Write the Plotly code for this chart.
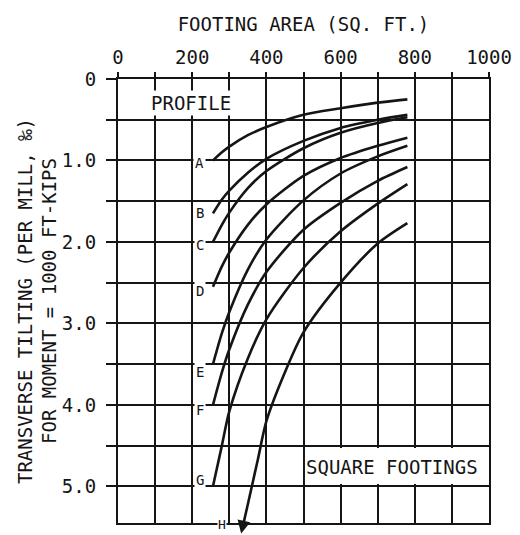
import plotly.graph_objects as go

# ---- data ----
profiles = ["A", "B", "C", "D", "E", "F", "G", "H"]

area_common = [256, 280, 300, 350, 400, 500, 600, 700, 780]
tilt_A = [1.00, 0.90, 0.83, 0.69, 0.59, 0.44, 0.36, 0.29, 0.25]
tilt_B = [1.65, 1.48, 1.37, 1.15, 0.98, 0.76, 0.60, 0.50, 0.44]
tilt_C = [2.00, 1.79, 1.64, 1.34, 1.13, 0.85, 0.66, 0.54, 0.47]
tilt_D = [2.55, 2.30, 2.13, 1.79, 1.54, 1.19, 0.97, 0.82, 0.72]
tilt_E = [3.50, 3.12, 2.86, 2.34, 1.97, 1.49, 1.16, 0.95, 0.82]
tilt_F = [4.00, 3.60, 3.32, 2.77, 2.37, 1.85, 1.52, 1.25, 1.08]
tilt_G = [5.00, 4.50, 4.08, 3.43, 2.95, 2.32, 1.87, 1.53, 1.29]
area_H = [332, 350, 377, 400, 450, 500, 600, 700, 780]
tilt_H = [5.58, 5.22, 4.67, 4.20, 3.60, 3.11, 2.50, 2.02, 1.77]

# label anchor points (area, tilt) for each profile letter
label_area = [221, 221, 221, 221, 221, 221, 221, 281]
label_tilt = [1.03, 1.64, 2.04, 2.60, 3.60, 4.06, 4.92, 5.47]

x_ticks = [0, 100, 200, 300, 400, 500, 600, 700, 800, 900, 1000]
x_ticktext = ["0", "", "200", "", "400", "", "600", "", "800", "", "1000"]
y_ticks = [0, 0.5, 1.0, 1.5, 2.0, 2.5, 3.0, 3.5, 4.0, 4.5, 5.0]
y_ticktext = ["0", "", "1.0", "", "2.0", "", "3.0", "", "4.0", "", "5.0"]

Y_MAX = 5.45  # bottom of the (reversed) tilt axis

series = {
    "A": (area_common, tilt_A),
    "B": (area_common, tilt_B),
    "C": (area_common, tilt_C),
    "D": (area_common, tilt_D),
    "E": (area_common, tilt_E),
    "F": (area_common, tilt_F),
    "G": (area_common, tilt_G),
    "H": (area_H, tilt_H),
}

INK = "#151515"
FONT = "DejaVu Sans Mono"


def to_paper(tilt):
    # reversed axis: tilt 0 at top (paper 1), Y_MAX at bottom (paper 0)
    return 1 - tilt / Y_MAX


fig = go.Figure()
for name in profiles:
    xs, ys = series[name]
    fig.add_trace(go.Scatter(
        x=xs, y=ys, mode="lines", name=name,
        line=dict(color=INK, width=2.6, shape="spline", smoothing=0.8),
        showlegend=False, hoverinfo="skip",
    ))

annotations = []
for name, lx, ly in zip(profiles[:-1], label_area[:-1], label_tilt[:-1]):
    annotations.append(dict(
        x=lx, y=ly, xref="x", yref="y", text=name, showarrow=False,
        font=dict(family=FONT, size=14, color=INK),
        bgcolor="white", borderpad=1,
    ))
# letter H sits on the bottom frame line; curve H ends in an arrow head there
annotations.append(dict(
    x=label_area[-1], y=to_paper(label_tilt[-1]), xref="x", yref="paper",
    yanchor="middle", xanchor="center",
    text=profiles[-1], showarrow=False, bgcolor="white", borderpad=0,
    font=dict(family=FONT, size=13, color=INK),
))
annotations.append(dict(
    x=area_H[0], y=to_paper(tilt_H[0]), xref="x", yref="paper",
    text="", showarrow=True, arrowhead=2, arrowsize=1, arrowwidth=2.6,
    arrowcolor=INK, ax=3, ay=-14,
))
annotations.append(dict(
    x=196, y=0.29, xref="x", yref="y", text="PROFILE", showarrow=False,
    font=dict(family=FONT, size=19, color=INK), bgcolor="white", borderpad=1,
))
annotations.append(dict(
    x=738, y=4.76, xref="x", yref="y", text="SQUARE FOOTINGS", showarrow=False,
    font=dict(family=FONT, size=19, color=INK),
))

# the page body adds an 8px offset, so the figure is sized to fit inside it
fig.update_layout(
    width=512, height=527,
    margin=dict(l=110, r=31, t=71, b=12),
    paper_bgcolor="white", plot_bgcolor="white",
    font=dict(family=FONT, size=19, color=INK),
    annotations=annotations,
    shapes=[dict(type="rect", xref="x", yref="y", x0=504, x1=996, y0=4.53, y1=4.97,
                 fillcolor="white", line=dict(width=0), layer="above")],
)

fig.update_xaxes(
    side="top", range=[0, 1000], automargin=False,
    tickmode="array", tickvals=x_ticks, ticktext=x_ticktext,
    ticks="outside", ticklen=5, tickwidth=1.6, tickcolor=INK,
    showgrid=True, gridcolor=INK, gridwidth=1.7,
    showline=True, linecolor=INK, linewidth=2, mirror=True,
    zeroline=False,
    tickfont=dict(family=FONT, size=19, color=INK),
    title=dict(text="FOOTING AREA (SQ. FT.)", font=dict(family=FONT, size=19, color=INK), standoff=10),
)
fig.update_yaxes(
    range=[Y_MAX, 0], automargin=False,
    tickmode="array", tickvals=y_ticks, ticktext=y_ticktext,
    ticks="outside", ticklen=10, tickwidth=1.6, tickcolor=INK,
    ticklabelstandoff=6,
    showgrid=True, gridcolor=INK, gridwidth=1.7,
    showline=True, linecolor=INK, linewidth=2, mirror=True,
    zeroline=False,
    tickfont=dict(family=FONT, size=19, color=INK),
    title=dict(text="TRANSVERSE TILTING (PER MILL, ‰)<br>FOR MOMENT = 1000 FT-KIPS",
               font=dict(family=FONT, size=19, color=INK), standoff=0),
)

fig.write_html("out.html")
